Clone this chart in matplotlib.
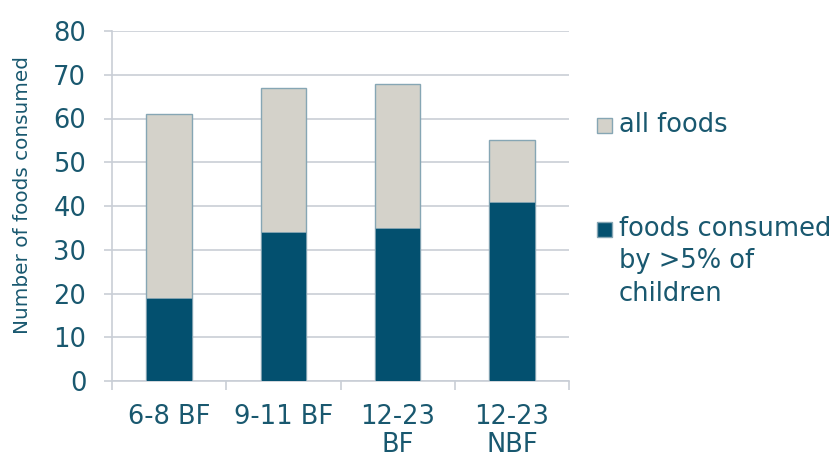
import numpy as np
import matplotlib
matplotlib.use('Agg')
import matplotlib.pyplot as plt
from matplotlib.patches import Rectangle

categories = ['6-8 BF', '9-11 BF', '12-23\nBF', '12-23\nNBF']
all_foods = [61, 67, 68, 55]
foods_5pct = [19, 34, 35, 41]
yticks = [0, 10, 20, 30, 40, 50, 60, 70, 80]
legend_labels = ['all foods', 'foods consumed\nby >5% of\nchildren']

text_col = '#19586f'
dark = '#03506f'
light = '#d4d2ca'
edge = '#86a6b4'
grid_col = '#c9ced6'

plt.rcParams['font.family'] = ['DejaVu Sans']

fig = plt.figure(figsize=(8.32, 4.57), dpi=100)
W, H = 832, 457
ax = fig.add_axes([112 / W, 1 - 381 / H, 457 / W, 350 / H])

x = np.arange(len(categories))
ax.bar(x, all_foods, width=0.4, color=light, edgecolor=edge, linewidth=1, zorder=2)
ax.bar(x, foods_5pct, width=0.4, color=dark, edgecolor=edge, linewidth=0.6, zorder=3)

ax.set_xlim(-0.5, len(categories) - 0.5)
ax.set_ylim(0, 80)
ax.set_yticks(yticks)
ax.set_yticklabels([str(v) for v in yticks], fontsize=18.5, color=text_col)
ax.yaxis.grid(True, color=grid_col, linewidth=1.2, zorder=0)
ax.set_axisbelow(True)

# x ticks sit between the categories, labels centred under bars
ax.set_xticks(np.arange(-0.5, len(categories), 1.0))
ax.set_xticklabels([])
ax.set_xticks(x, minor=True)
ax.set_xticklabels(categories, minor=True, fontsize=18.5, color=text_col, linespacing=1.12)
ax.tick_params(axis='x', which='minor', length=0, pad=16.5)
ax.tick_params(axis='x', which='major', length=6.5, color=grid_col, width=1.2)
ax.tick_params(axis='y', length=6, color=grid_col, width=1.2, pad=12.5)

for s in ['top', 'right']:
    ax.spines[s].set_visible(False)
for s in ['left', 'bottom']:
    ax.spines[s].set_color(grid_col)
    ax.spines[s].set_linewidth(1.2)

ax.set_ylabel('Number of foods consumed', fontsize=14.4, color=text_col)
ax.yaxis.set_label_coords(-0.175, 0.531)

# legend drawn by hand so the swatch sits on the first text line
swatch_cols = [light, dark]
swatch_top = [118, 222]
for col, top, lab in zip(swatch_cols, swatch_top, legend_labels):
    fig.patches.append(Rectangle((597 / W, 1 - (top + 15) / H), 15 / W, 15 / H,
                                 transform=fig.transFigure, facecolor=col,
                                 edgecolor=edge, linewidth=1))
    fig.text(619 / W, 1 - (top - 6) / H, lab, fontsize=18.5, color=text_col,
             va='top', ha='left', linespacing=1.32)

fig.savefig('out.png', dpi=100)
